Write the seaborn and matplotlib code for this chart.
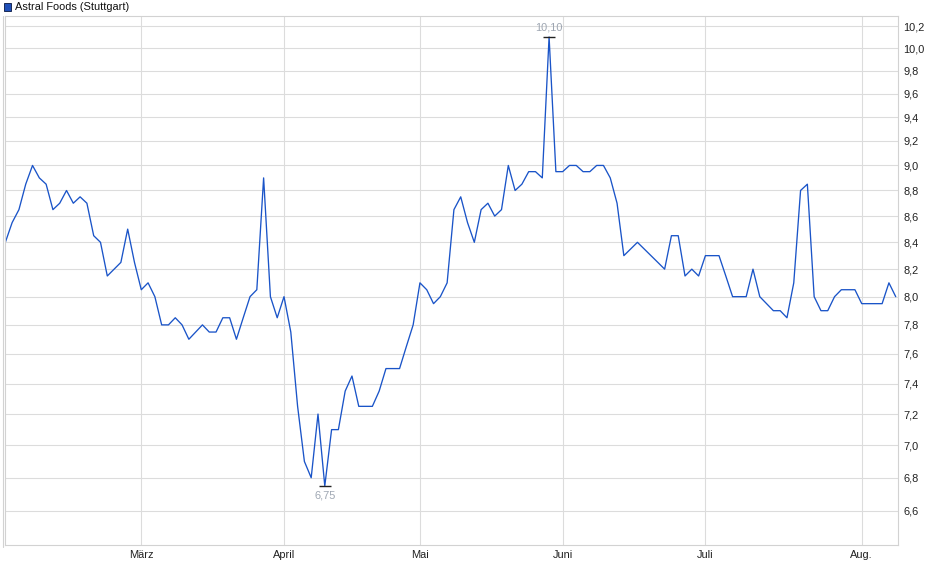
import numpy as np
import pandas as pd
import matplotlib
matplotlib.use("Agg")
import matplotlib.pyplot as plt
import seaborn as sns
from matplotlib.lines import Line2D
from matplotlib.patches import Rectangle
from matplotlib.ticker import FixedLocator, NullLocator

# ---- data ----
series_name = "Astral Foods (Stuttgart)"
prices = [
    8.40, 8.55, 8.65, 8.85, 9.00, 8.90, 8.85, 8.65, 8.70, 8.80,
    8.70, 8.75, 8.70, 8.45, 8.40, 8.15, 8.20, 8.25, 8.50, 8.25,
    8.05, 8.10, 8.00, 7.80, 7.80, 7.85, 7.80, 7.70, 7.75, 7.80,
    7.75, 7.75, 7.85, 7.85, 7.70, 7.85, 8.00, 8.05, 8.90, 8.00,
    7.85, 8.00, 7.75, 7.25, 6.90, 6.80, 7.20, 6.75, 7.10, 7.10,
    7.35, 7.45, 7.25, 7.25, 7.25, 7.35, 7.50, 7.50, 7.50, 7.65,
    7.80, 8.10, 8.05, 7.95, 8.00, 8.10, 8.65, 8.75, 8.55, 8.40,
    8.65, 8.70, 8.60, 8.65, 9.00, 8.80, 8.85, 8.95, 8.95, 8.90,
    10.10, 8.95, 8.95, 9.00, 9.00, 8.95, 8.95, 9.00, 9.00, 8.90,
    8.70, 8.30, 8.35, 8.40, 8.35, 8.30, 8.25, 8.20, 8.45, 8.45,
    8.15, 8.20, 8.15, 8.30, 8.30, 8.30, 8.15, 8.00, 8.00, 8.00,
    8.20, 8.00, 7.95, 7.90, 7.90, 7.85, 8.10, 8.80, 8.85, 8.00,
    7.90, 7.90, 8.00, 8.05, 8.05, 8.05, 7.95, 7.95, 7.95, 7.95,
    8.10, 8.00,
]
month_labels = ["März", "April", "Mai", "Juni", "Juli", "Aug."]
month_positions = [20, 41, 61, 82, 103, 126]   # trading-day index of month start
y_ticks = [6.6, 6.8, 7.0, 7.2, 7.4, 7.6, 7.8, 8.0, 8.2, 8.4, 8.6, 8.8,
           9.0, 9.2, 9.4, 9.6, 9.8, 10.0, 10.2]

df = pd.DataFrame({"day": np.arange(len(prices)), "price": prices})

# ---- style ----
sns.set_theme(style="white")
plt.rcParams["font.family"] = ["Liberation Sans", "DejaVu Sans"]

LINE = "#1a54c8"
GRID = "#dcdcdc"
FRAME = "#d2d2d2"
ANN = "#9ea6b2"
FS = 7.9

W, H = 940, 579
fig = plt.figure(figsize=(W / 100, H / 100), dpi=100)
left_px, right_px, top_px, bot_px = 5.0, 898.3, 16.0, 545.0
ax = fig.add_axes([left_px / W, 1 - bot_px / H,
                   (right_px - left_px) / W, (bot_px - top_px) / H])

sns.lineplot(data=df, x="day", y="price", ax=ax, color=LINE,
             linewidth=0.95, label=series_name, legend=False)

ax.set_yscale("log")
ax.set_ylim(6.4016, 10.292)
ax.set_xlim(-0.05, 131.38)

ax.yaxis.set_major_locator(FixedLocator(y_ticks))
ax.yaxis.set_minor_locator(NullLocator())
ax.set_yticklabels([f"{v:.1f}".replace(".", ",") for v in y_ticks])
ax.yaxis.tick_right()
ax.xaxis.set_major_locator(FixedLocator(month_positions))
ax.xaxis.set_minor_locator(NullLocator())
ax.set_xticklabels(month_labels)

ax.tick_params(axis="y", length=0, pad=3.5, labelsize=FS, labelcolor="#222222")
ax.tick_params(axis="x", length=0, pad=3.5, labelsize=FS, labelcolor="#222222")
ax.grid(True, color=GRID, linewidth=0.8)
ax.set_xlabel("")
ax.set_ylabel("")
for s in ax.spines.values():
    s.set_color(FRAME)
    s.set_linewidth(0.8)

# extremes
imax = int(np.argmax(prices))
imin = int(np.argmin(prices))
for i, va, off in [(imax, "bottom", 3.0), (imin, "top", -3.5)]:
    ax.plot([i], [prices[i]], marker="_", markersize=8, markeredgewidth=1.0,
            color="#222222", zorder=5)
    ax.annotate(f"{prices[i]:.2f}".replace(".", ","), (i, prices[i]),
                xytext=(0, off), textcoords="offset points", ha="center",
                va=va, fontsize=FS, color=ANN)

# outer left rule
fig.add_artist(Line2D([2.7 / W, 2.7 / W], [1 - 16 / H, 1 - 547 / H],
                      transform=fig.transFigure, color=FRAME, linewidth=0.8))

# legend
fig.add_artist(Rectangle((3.5 / W, 1 - 10.5 / H), 7 / W, 7 / H,
                         transform=fig.transFigure, facecolor="#1f4fb8",
                         edgecolor="#1a2a55", linewidth=0.7))
fig.text(15 / W, 1 - 7 / H, series_name, fontsize=FS, color="#111111",
         va="center", ha="left")

fig.savefig("out.png", dpi=100)
